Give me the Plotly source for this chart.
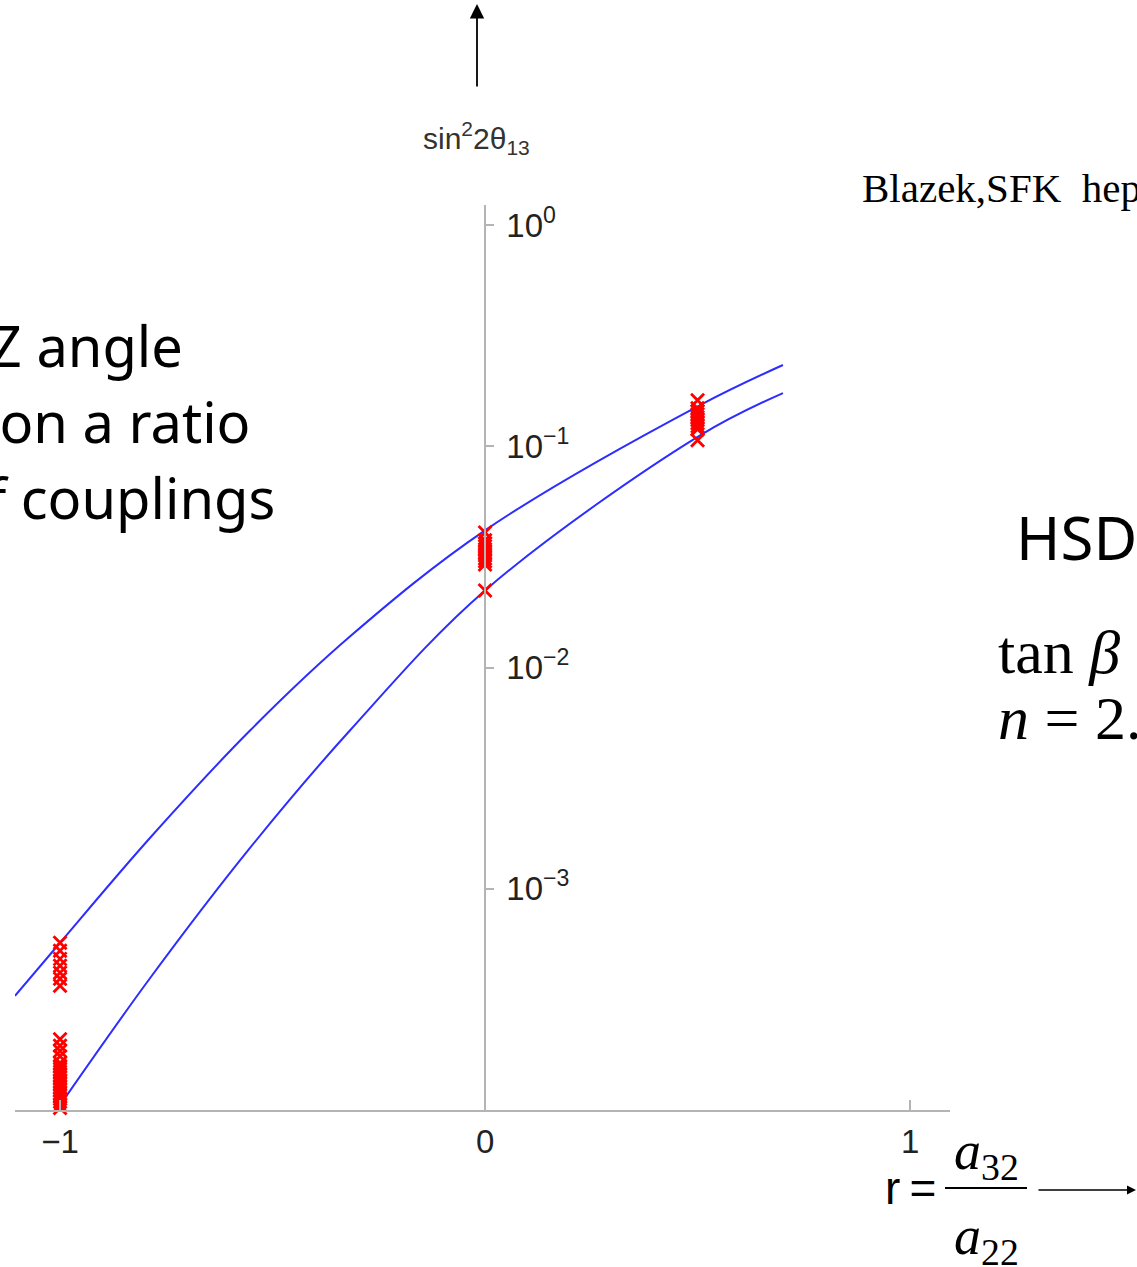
import plotly.graph_objects as go

# Band of predictions: sin^2(2 theta_13) versus r = a32/a22
r_upper = [-1.106, -1.0, -0.788, -0.553, -0.318, 0.0, 0.506, 0.701]
s_upper = [3.28e-4, 5.70e-4, 1.70e-3, 5.19e-3, 1.38e-2, 4.17e-2, 0.1535, 0.233]

r_lower = [-1.008, -0.788, -0.553, -0.318, 0.0, 0.506, 0.701]
s_lower = [1.0e-4, 3.95e-4, 1.53e-3, 5.19e-3, 2.23e-2, 0.112, 0.174]

# Scan points at the three sampled values of r
r_scan_m1 = -1.0
s_scan_m1 = [5.70e-4, 5.24e-4, 4.82e-4, 4.49e-4, 4.17e-4, 3.92e-4, 3.64e-4,
             2.09e-4, 1.95e-4, 1.85e-4, 1.75e-4, 1.63e-4, 1.58e-4, 1.53e-4,
             1.49e-4, 1.44e-4, 1.40e-4, 1.35e-4, 1.31e-4, 1.27e-4, 1.23e-4,
             1.19e-4, 1.16e-4, 1.12e-4, 1.09e-4, 1.05e-4, 1.02e-4]
r_scan_0 = 0.0
s_scan_0 = [4.08e-2, 3.76e-2, 3.64e-2, 3.53e-2, 3.42e-2, 3.31e-2, 3.21e-2,
            3.11e-2, 3.02e-2, 2.92e-2, 2.23e-2]
r_scan_half = 0.5
s_scan_half = [0.1614, 0.1486, 0.1440, 0.1396, 0.1352, 0.1312, 0.1271,
               0.1231, 0.1194, 0.1064]

x_ticks = [-1, 0, 1]
x_tick_text = ["\u22121", "0", "1"]
y_ticks = [1, 0.1, 0.01, 0.001]
y_tick_text = ["10<sup>0</sup>", "10<sup>\u22121</sup>", "10<sup>\u22122</sup>", "10<sup>\u22123</sup>"]

W, H = 1137, 1267
L, R, T, B = 15, 187, 205, 157
PW, PH = W - L - R, H - T - B


def px(x):
    return (x - L) / PW


def py(y):
    return (H - B - y) / PH


fig = go.Figure()

curve_style = dict(color="rgb(45,45,255)", width=2, shape="spline", smoothing=1.0)
fig.add_trace(go.Scatter(x=r_upper, y=s_upper, mode="lines", line=curve_style,
                         hoverinfo="skip", showlegend=False))
fig.add_trace(go.Scatter(x=r_lower, y=s_lower, mode="lines", line=curve_style,
                         hoverinfo="skip", showlegend=False))

scan_x = ([r_scan_m1] * len(s_scan_m1) + [r_scan_0] * len(s_scan_0)
          + [r_scan_half] * len(s_scan_half))
scan_y = s_scan_m1 + s_scan_0 + s_scan_half
fig.add_trace(go.Scatter(
    x=scan_x, y=scan_y, mode="markers", cliponaxis=False, showlegend=False,
    marker=dict(symbol="x-thin", size=13, line=dict(color="red", width=2.8), color="red"),
))

axis_gray = "#b4b4b4"
tick_font = dict(family="Liberation Sans", size=33, color="#222")

fig.update_layout(
    width=W, height=H,
    margin=dict(l=L, r=R, t=T, b=B, pad=0),
    paper_bgcolor="white", plot_bgcolor="white",
    showlegend=False,
    xaxis=dict(
        range=[-1.106, 1.094], showgrid=False, zeroline=False,
        showline=True, linecolor=axis_gray, linewidth=1.5,
        ticks="inside", ticklen=10, tickcolor=axis_gray, tickwidth=1.5,
        tickvals=x_ticks, ticktext=x_tick_text, tickfont=tick_font,
        ticklabelstandoff=2,
    ),
    yaxis=dict(
        type="log", range=[-4, 0.0905], showgrid=False, zeroline=False,
        anchor="free", position=px(485), side="right",
        showline=True, linecolor=axis_gray, linewidth=1.5,
        ticks="outside", ticklen=8, tickcolor=axis_gray, tickwidth=1.5,
        tickvals=y_ticks, ticktext=y_tick_text, tickfont=tick_font,
        ticklabelstandoff=6,
    ),
)


def note(x, y, text, font, xanchor="center"):
    return dict(x=px(x), y=py(y), xref="paper", yref="paper", text=text,
                showarrow=False, xanchor=xanchor, yanchor="middle", font=font)


annotations = []

# axis titles and arrows
annotations.append(note(476, 138, "sin<sup>2</sup>2\u03b8<sub>13</sub>",
                        dict(family="Liberation Sans", size=30, color="#333")))
annotations.append(dict(x=px(477), y=py(4), xref="paper", yref="paper", text="",
                        showarrow=True, ax=0, ay=84, arrowhead=2, arrowsize=1.6,
                        arrowwidth=1.8, arrowcolor="black"))
annotations.append(note(938, 1188, "r\u2009=",
                        dict(family="Liberation Sans", size=46, color="black"), "right"))
annotations.append(note(986, 1154, "<i>a</i><sub>32</sub>",
                        dict(family="Liberation Serif", size=54, color="black")))
annotations.append(note(986, 1239, "<i>a</i><sub>22</sub>",
                        dict(family="Liberation Serif", size=54, color="black")))
annotations.append(dict(x=px(1145), y=py(1190), xref="paper", yref="paper", text="",
                        showarrow=True, ax=-108, ay=0, arrowhead=2, arrowsize=1.2,
                        arrowwidth=1.5, arrowcolor="black"))

# side notes
note_font = dict(family="Noto Sans", size=56, color="black")
annotations.append(note(185, 345, "CHOOZ angle", note_font, "right"))
annotations.append(note(252, 421, "depends on a ratio", note_font, "right"))
annotations.append(note(277, 497, "of couplings", note_font, "right"))
annotations.append(note(1014, 537, "HSD", dict(family="Noto Sans", size=60, color="black"), "left"))

serif = dict(family="Liberation Serif", color="black")
annotations.append(note(860, 188, "Blazek,SFK\u00a0\u00a0hep-ph", dict(size=41, **serif), "left"))
annotations.append(note(996, 652, "tan <i>\u03b2</i>", dict(size=62, **serif), "left"))
annotations.append(note(996, 718, "<i>n</i> = 2.", dict(size=62, **serif), "left"))

fig.update_layout(annotations=annotations)

# fraction bar
fig.add_shape(type="line", xref="paper", yref="paper",
              x0=px(945), x1=px(1027), y0=py(1188), y1=py(1188),
              line=dict(color="black", width=2))

fig.write_html("out.html")
